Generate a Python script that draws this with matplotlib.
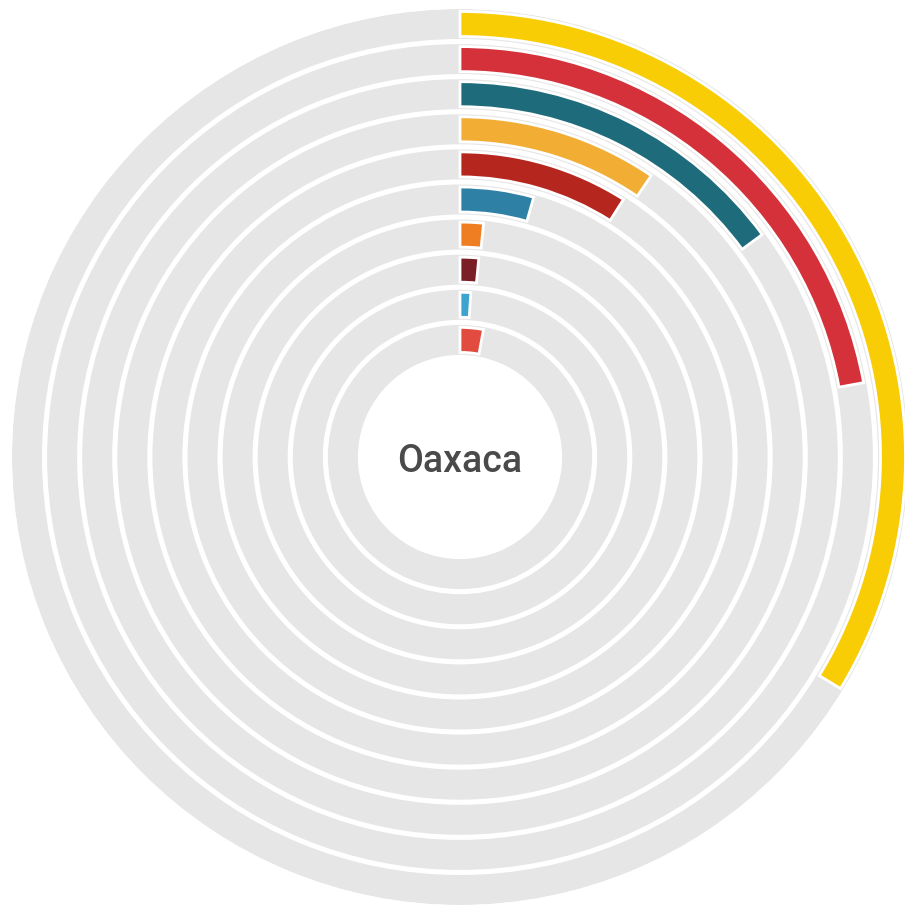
import numpy as np
import matplotlib.pyplot as plt

# valores en porcentaje (de afuera hacia adentro)
categorias = ['c1', 'c2', 'c3', 'c4', 'c5', 'c6', 'c7', 'c8', 'c9', 'c10']
valores = [33.7, 22.1, 14.9, 9.5, 9.0, 4.4, 1.6, 1.5, 1.05, 2.9]
colores = ['#F9CD05', '#D4313A', '#1E6B7B', '#F2AD35', '#B5261F',
           '#2E80A5', '#EF7E22', '#7A1F26', '#3CA5CF', '#E24B3F']
titulo = 'Oaxaca'

W, H = 905, 906
cx, cy = 460, 457
R = 448.0          # radio exterior en px
paso = 35.1        # distancia entre anillos
ancho_pista = 30.0
ancho_barra = 25.0

fig = plt.figure(figsize=(W / 100, H / 100), dpi=100)
ax = fig.add_axes([(cx - R) / W, (H - cy - R) / H, 2 * R / W, 2 * R / H],
                  projection='polar')
ax.set_theta_zero_location('N')
ax.set_theta_direction(-1)
ax.set_ylim(0, R)
ax.set_axis_off()

for i, (v, c) in enumerate(zip(valores, colores)):
    r_ext = R - i * paso
    r_centro = r_ext - ancho_pista / 2
    # pista gris completa
    ax.bar(0, ancho_pista, width=2 * np.pi, bottom=r_ext - ancho_pista,
           color='#E6E6E6', align='edge', linewidth=0)
    # barra de color
    ax.bar(0, ancho_barra, width=v / 100 * 2 * np.pi,
           bottom=r_centro - ancho_barra / 2, color=c, align='edge',
           edgecolor='white', linewidth=2)

# texto central, un poco por debajo del centro
ax.text(np.pi, 5, titulo, ha='center', va='center', fontsize=27,
        family='Roboto', fontweight='medium', color='#4A4A4A')

fig.savefig('out.png', dpi=100)
